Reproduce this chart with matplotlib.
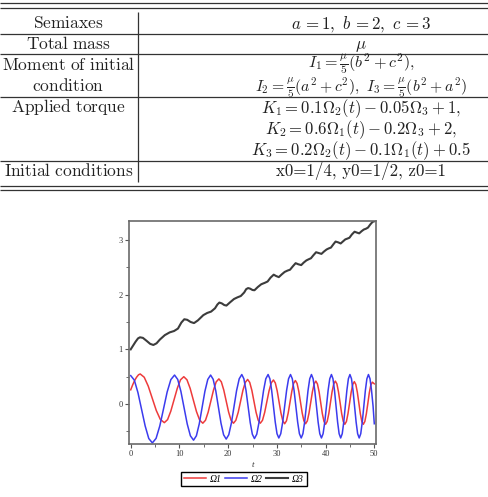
import matplotlib

matplotlib.use("Agg")
import matplotlib.pyplot as plt
from matplotlib.ticker import MultipleLocator

plt.rcParams["mathtext.fontset"] = "cm"

# table contents (left column, right column), with baseline rows in pixels
left_labels = ["Semiaxes", "Total mass", "Moment of initial", "condition",
               "Applied torque", "Initial conditions"]
right_labels = [
    r"$a\,= 1,\ b\,= 2,\ c\,= 3$",
    r"$\mu$",
    r"$I_1 = \frac{\mu}{5}(b^2 + c^2),$",
    r"$I_2 = \frac{\mu}{5}(a^2 + c^2),\ I_3 = \frac{\mu}{5}(b^2 + a^2)$",
    r"$K_1 = 0.1\Omega_2(t) - 0.05\Omega_3 + 1,$",
    r"$K_2 = 0.6\Omega_1(t) - 0.2\Omega_3 + 2,$",
    r"$K_3 = 0.2\Omega_2(t) - 0.1\Omega_1(t) + 0.5$",
    "x0=1/4, y0=1/2, z0=1",
]
left_rows = [28.3, 48.6, 69.8, 91.0, 111.8, 175.7]
right_rows = [28.3, 48.6, 68.4, 90.8, 113.3, 134.2, 154.8, 175.7]
right_sizes = [12.2, 12.2, 11.6, 11.3, 12.0, 12.0, 12.0, 12.2]

# curves
t_omega1 = [0, 0.4, 0.8, 1.2, 1.6, 1.95, 2.775, 3.6, 4.425, 5.25, 6.075, 6.9,
            7.57, 8.23, 8.9, 9.57, 10.23, 10.9, 11.55, 12.2, 12.85, 13.5, 14.15,
            14.8, 15.35, 15.9, 16.45, 17.0, 17.55, 18.1, 18.6, 19.1, 19.6, 20.1,
            20.6, 21.1, 21.58, 22.07, 22.55, 23.03, 23.52, 24.0, 24.43, 24.87,
            25.3, 25.73, 26.17, 26.6, 27.05, 27.5, 27.95, 28.4, 28.85, 29.3,
            29.68, 30.07, 30.45, 30.83, 31.22, 31.6, 31.97, 32.33, 32.7, 33.07,
            33.43, 33.8, 34.15, 34.5, 34.85, 35.2, 35.55, 35.9, 36.25, 36.6,
            36.95, 37.3, 37.65, 38.0, 38.33, 38.67, 39.0, 39.33, 39.67, 40.0,
            40.33, 40.67, 41.0, 41.33, 41.67, 42.0, 42.33, 42.65, 42.98, 43.3,
            43.63, 43.95, 44.28, 44.6, 44.93, 45.25, 45.58, 45.9, 46.21, 46.52,
            46.83, 47.13, 47.44, 47.75, 48.06, 48.37, 48.68, 48.98, 49.29, 49.6,
            50.0]
omega1 = [0.26, 0.35, 0.43, 0.49, 0.535, 0.55, 0.49, 0.3275, 0.105, -0.1175,
          -0.28, -0.34, -0.284, -0.13, 0.08, 0.29, 0.444, 0.50, 0.443, 0.2875,
          0.075, -0.1375, -0.293, -0.35, -0.296, -0.1475, 0.055, 0.2575, 0.406,
          0.46, 0.406, 0.2575, 0.055, -0.1475, -0.296, -0.35, -0.296, -0.15, 0.05,
          0.25, 0.396, 0.45, 0.396, 0.25, 0.05, -0.15, -0.296, -0.35, -0.297,
          -0.1525, 0.045, 0.2425, 0.387, 0.44, 0.386, 0.24, 0.04, -0.16, -0.306,
          -0.36, -0.307, -0.1625, 0.035, 0.2325, 0.377, 0.43, 0.377, 0.2325, 0.035,
          -0.1625, -0.307, -0.36, -0.308, -0.165, 0.03, 0.225, 0.368, 0.42, 0.367,
          0.2225, 0.025, -0.1725, -0.317, -0.37, -0.317, -0.1725, 0.025, 0.2225,
          0.367, 0.42, 0.367, 0.2225, 0.025, -0.1725, -0.317, -0.37, -0.318,
          -0.175, 0.02, 0.215, 0.358, 0.41, 0.358, 0.215, 0.02, -0.175, -0.318,
          -0.37, -0.318, -0.1775, 0.015, 0.2075, 0.348, 0.40, 0.37]

t_omega2 = [0, 0.742, 1.483, 2.225, 2.967, 3.708, 4.45, 5.21, 5.97, 6.73, 7.48,
            8.24, 9.0, 9.65, 10.3, 10.95, 11.6, 12.25, 12.9, 13.48, 14.07, 14.65,
            15.23, 15.82, 16.4, 16.93, 17.47, 18.0, 18.53, 19.07, 19.6, 20.13,
            20.67, 21.2, 21.73, 22.27, 22.8, 23.23, 23.67, 24.1, 24.53, 24.97,
            25.4, 25.87, 26.33, 26.8, 27.27, 27.73, 28.2, 28.57, 28.93, 29.3,
            29.67, 30.03, 30.4, 30.8, 31.2, 31.6, 32.0, 32.4, 32.8, 33.17, 33.53,
            33.9, 34.27, 34.63, 35.0, 35.35, 35.7, 36.05, 36.4, 36.75, 37.1, 37.44,
            37.78, 38.13, 38.47, 38.81, 39.15, 39.49, 39.83, 40.18, 40.52, 40.86,
            41.2, 41.52, 41.83, 42.15, 42.47, 42.78, 43.1, 43.42, 43.73, 44.05,
            44.37, 44.68, 45.0, 45.32, 45.63, 45.95, 46.27, 46.58, 46.9, 47.22,
            47.53, 47.85, 48.17, 48.48, 48.8, 49.12, 49.43, 49.75, 50.0]
omega2 = [0.52, 0.438, 0.21, -0.095, -0.40, -0.63, -0.71, -0.627, -0.40, -0.09,
          0.22, 0.447, 0.53, 0.45, 0.233, -0.065, -0.363, -0.58, -0.66, -0.58,
          -0.363, -0.065, 0.233, 0.45, 0.53, 0.452, 0.238, -0.055, -0.348, -0.562,
          -0.64, -0.561, -0.345, -0.05, 0.245, 0.461, 0.54, 0.462, 0.2475, -0.045,
          -0.3375, -0.552, -0.63, -0.552, -0.3375, -0.045, 0.2475, 0.462, 0.54,
          0.462, 0.25, -0.04, -0.33, -0.542, -0.62, -0.542, -0.33, -0.04, 0.25,
          0.462, 0.54, 0.462, 0.25, -0.04, -0.33, -0.542, -0.62, -0.542, -0.33,
          -0.04, 0.25, 0.462, 0.54, 0.462, 0.25, -0.04, -0.33, -0.542, -0.62,
          -0.542, -0.33, -0.04, 0.25, 0.462, 0.54, 0.462, 0.25, -0.04, -0.33,
          -0.542, -0.62, -0.542, -0.33, -0.04, 0.25, 0.462, 0.54, 0.462, 0.25,
          -0.04, -0.33, -0.542, -0.62, -0.542, -0.33, -0.04, 0.25, 0.462, 0.54,
          0.462, 0.25, -0.04, -0.36]

t_omega3 = [0, 0.5, 1.0, 1.5, 1.9, 2.5, 3.2, 4.0, 4.65, 5.3, 6.0, 7.0, 8.0, 8.9,
            9.7, 10.4, 11.0, 11.6, 12.3, 13.0, 13.8, 14.9, 15.7, 16.5, 17.3,
            17.8, 18.2, 18.7, 19.2, 19.65, 20.4, 21.2, 21.9, 22.6, 23.3, 23.7,
            24.1, 24.5, 25.0, 25.4, 26.1, 26.8, 27.5, 28.1, 28.7, 29.35, 29.85,
            30.4, 31.0, 31.6, 32.2, 32.7, 33.3, 33.85, 34.4, 35.0, 35.5, 36.05,
            36.5, 37.0, 37.5, 38.05, 38.6, 39.15, 39.7, 40.2, 40.65, 41.1, 41.6,
            42.05, 42.6, 43.1, 43.6, 44.05, 44.5, 44.9, 45.4, 45.95, 46.4, 46.9,
            47.4, 47.85, 48.3, 48.7, 49.2, 49.65, 50.0]
omega3 = [1.00, 1.07, 1.14, 1.20, 1.22, 1.21, 1.16, 1.10, 1.08, 1.11, 1.18, 1.26,
          1.31, 1.335, 1.38, 1.49, 1.55, 1.54, 1.50, 1.48, 1.53, 1.625, 1.665,
          1.69, 1.75, 1.82, 1.855, 1.84, 1.81, 1.80, 1.86, 1.92, 1.95, 1.975,
          2.04, 2.10, 2.12, 2.11, 2.085, 2.08, 2.14, 2.19, 2.215, 2.24, 2.31,
          2.365, 2.34, 2.32, 2.37, 2.415, 2.44, 2.455, 2.52, 2.575, 2.555, 2.54,
          2.585, 2.625, 2.645, 2.665, 2.72, 2.775, 2.76, 2.745, 2.79, 2.825,
          2.845, 2.86, 2.92, 2.97, 2.955, 2.935, 2.975, 3.01, 3.025, 3.04, 3.10,
          3.15, 3.135, 3.12, 3.16, 3.19, 3.205, 3.225, 3.285, 3.33, 3.34]

series_names = ["\u03a91", "\u03a92", "\u03a93"]

W, H = 489, 497
fig = plt.figure(figsize=(W / 100, H / 100), dpi=100)

# table drawn in pixel space
tab = fig.add_axes([0, 0, 1, 1])
tab.set_xlim(0, W)
tab.set_ylim(H, 0)
tab.axis("off")
tab.hlines([3, 7.5, 33.5, 54, 96.5, 160.5, 185.5, 190], 0, W, color="#333333", lw=0.9)
tab.vlines(137.7, 12, 182, color="#333333", lw=0.9)
for txt, yb in zip(left_labels, left_rows):
    tab.text(68.5, yb, r"$\mathrm{" + txt.replace(" ", r"\ ") + "}$",
             ha="center", va="baseline", fontsize=12.5, color="#222222")
for txt, yb, fs in zip(right_labels, right_rows, right_sizes):
    kw = {} if txt.startswith("$") else {"family": "cmr10"}
    tab.text(361, yb, txt, ha="center", va="baseline", fontsize=fs,
             color="#222222", **kw)

# the plot
ax = fig.add_axes([129 / W, 1 - 444 / H, 247 / W, 223.5 / H])
l1, = ax.plot(t_omega1, omega1, color="#ee3b3b", lw=1.1)
l2, = ax.plot(t_omega2, omega2, color="#3b3bee", lw=1.1)
l3, = ax.plot(t_omega3, omega3, color="#3c3c3c", lw=1.5)
ax.set_xlim(-0.35, 50.35)
ax.set_ylim(-0.73, 3.355)
ax.xaxis.set_major_locator(MultipleLocator(10))
ax.xaxis.set_minor_locator(MultipleLocator(5))
ax.yaxis.set_major_locator(MultipleLocator(1))
ax.yaxis.set_minor_locator(MultipleLocator(0.5))
for s in ax.spines.values():
    s.set_color("#6a6a6a")
    s.set_linewidth(1.2)
ax.tick_params(which="both", direction="out", color="#555555", labelsize=6,
               labelcolor="#333333", pad=1.5)
ax.tick_params(which="major", length=3, width=0.8)
ax.tick_params(which="minor", length=2, width=0.6)
for lab in ax.get_xticklabels() + ax.get_yticklabels():
    lab.set_family("Liberation Serif")
ax.set_xlabel("t", fontsize=6.5, family="Liberation Serif", style="italic",
              labelpad=2, color="#333333")

fig.legend([l1, l2, l3], series_names, loc="center",
           bbox_to_anchor=(244 / W, 1 - 479 / H), ncol=3, frameon=True,
           fancybox=False, edgecolor="black", framealpha=1,
           prop={"family": "Liberation Serif", "style": "italic", "size": 7},
           handlelength=2.3, handletextpad=0.4, columnspacing=0.3,
           borderpad=0.25, borderaxespad=0)

fig.savefig("out.png", dpi=100)
plt.close(fig)
